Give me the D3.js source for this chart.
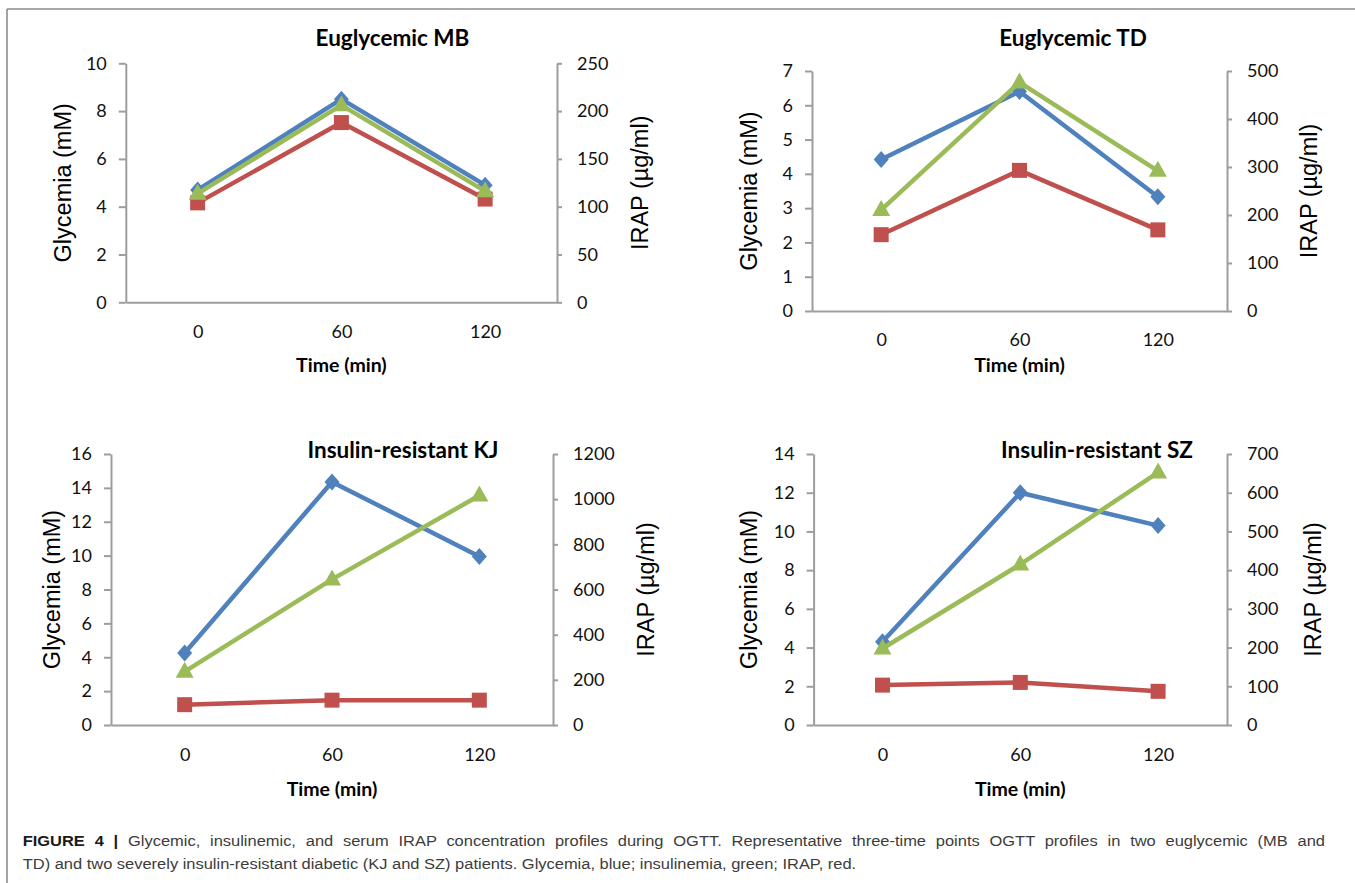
<!DOCTYPE html>
<html>
<head>
<meta charset="utf-8">
<script src="https://cdn.jsdelivr.net/npm/d3@7"></script>
<style>
  html, body { margin: 0; padding: 0; background: #fff; }
  svg { display: block; }
</style>
</head>
<body>
<svg id="chart" width="1355" height="883"></svg>
<script>
// ---------- DATA ----------
const timeLabels = ["0", "60", "120"];

const panelTitles = ["Euglycemic MB", "Euglycemic TD", "Insulin-resistant KJ", "Insulin-resistant SZ"];

const mbGlycemia    = [4.7, 8.5, 4.9];
const mbInsulinemia = [4.55, 8.25, 4.65];
const mbIrap        = [104, 188, 108];

const tdGlycemia    = [4.42, 6.4, 3.33];
const tdInsulinemia = [2.95, 6.67, 4.09];
const tdIrap        = [159, 293, 169];

const kjGlycemia    = [4.25, 14.35, 9.95];
const kjInsulinemia = [3.15, 8.6, 13.55];
const kjIrap        = [90, 110, 110];

const szGlycemia    = [4.3, 12.0, 10.3];
const szInsulinemia = [3.95, 8.3, 13.05];
const szIrap        = [103, 110, 87];

const mbGlyTicks  = [0, 2, 4, 6, 8, 10];
const mbIrapTicks = [0, 50, 100, 150, 200, 250];
const tdGlyTicks  = [0, 1, 2, 3, 4, 5, 6, 7];
const tdIrapTicks = [0, 100, 200, 300, 400, 500];
const kjGlyTicks  = [0, 2, 4, 6, 8, 10, 12, 14, 16];
const kjIrapTicks = [0, 200, 400, 600, 800, 1000, 1200];
const szGlyTicks  = [0, 2, 4, 6, 8, 10, 12, 14];
const szIrapTicks = [0, 100, 200, 300, 400, 500, 600, 700];

const leftAxisTitle  = "Glycemia (mM)";
const rightAxisTitle = "IRAP (µg/ml)";
const xAxisTitle     = "Time (min)";

const captionBold  = "FIGURE 4 |";
const captionLine1 = " Glycemic, insulinemic, and serum IRAP concentration profiles during OGTT. Representative three-time points OGTT profiles in two euglycemic (MB and";
const captionLine2 = "TD) and two severely insulin-resistant diabetic (KJ and SZ) patients. Glycemia, blue; insulinemia, green; IRAP, red.";

// ---------- LAYOUT / STYLE ----------
const colors = { glycemia: "#4F81BD", insulinemia: "#9BBB59", irap: "#C0504D" };
const axisColor = "#9d9d9d";
const tickFont = "Lato, 'Open Sans', sans-serif";
const titleFont = "Lato, 'Open Sans', sans-serif";
const labelFont = "'Liberation Sans', Arial, sans-serif";

const layouts = [
  { L: 125.8, R: 557, T: 63.3, B: 302.3, titleX: 392.5, titleY: 37, xlabY: 332, timeY: 364, glyX: 63, irapX: 640 },
  { L: 812, R: 1227, T: 71, B: 311, titleX: 1073, titleY: 37, xlabY: 340, timeY: 364, glyX: 749, irapX: 1309 },
  { L: 111, R: 553, T: 454, B: 725, titleX: 403, titleY: 449, xlabY: 755, timeY: 788, glyX: 52, irapX: 646 },
  { L: 813.6, R: 1227, T: 454, B: 725, titleX: 1097, titleY: 449, xlabY: 755, timeY: 788, glyX: 749, irapX: 1313 }
];

const panels = [
  { title: panelTitles[0], gly: mbGlycemia, ins: mbInsulinemia, irap: mbIrap, gTicks: mbGlyTicks, iTicks: mbIrapTicks },
  { title: panelTitles[1], gly: tdGlycemia, ins: tdInsulinemia, irap: tdIrap, gTicks: tdGlyTicks, iTicks: tdIrapTicks },
  { title: panelTitles[2], gly: kjGlycemia, ins: kjInsulinemia, irap: kjIrap, gTicks: kjGlyTicks, iTicks: kjIrapTicks },
  { title: panelTitles[3], gly: szGlycemia, ins: szInsulinemia, irap: szIrap, gTicks: szGlyTicks, iTicks: szIrapTicks }
];

const svg = d3.select("#chart");

// frame
svg.append("line").attr("x1", 7).attr("x2", 1355).attr("y1", 9).attr("y2", 9)
  .attr("stroke", "#8c8c8c").attr("stroke-width", 1.6);
svg.append("line").attr("x1", 7).attr("x2", 7).attr("y1", 9).attr("y2", 883)
  .attr("stroke", "#8c8c8c").attr("stroke-width", 1.6);

// marker shapes
function diamondPath(w, h) { return `M0,${-h}L${w},0L0,${h}L${-w},0Z`; }
function squarePath(s) { return `M${-s},${-s}H${s}V${s}H${-s}Z`; }
function trianglePath(w, h) { return `M0,${-h * 0.62}L${w},${h * 0.38}L${-w},${h * 0.38}Z`; }

panels.forEach((p, i) => {
  const lay = layouts[i];
  const g = svg.append("g");

  const x = d3.scalePoint().domain(timeLabels).range([lay.L, lay.R]).padding(0.5);
  const yL = d3.scaleLinear().domain([0, d3.max(p.gTicks)]).range([lay.B, lay.T]);
  const yR = d3.scaleLinear().domain([0, d3.max(p.iTicks)]).range([lay.B, lay.T]);

  const aL = g.append("g").attr("transform", `translate(${lay.L},0)`)
    .call(d3.axisLeft(yL).tickValues(p.gTicks).tickSize(7).tickSizeOuter(0).tickPadding(12).tickFormat(d3.format("d")));
  const aR = g.append("g").attr("transform", `translate(${lay.R},0)`)
    .call(d3.axisRight(yR).tickValues(p.iTicks).tickSize(5).tickSizeOuter(0).tickPadding(15).tickFormat(d3.format("d")));
  const aB = g.append("g").attr("transform", `translate(0,${lay.B})`)
    .call(d3.axisBottom(x).tickSize(0).tickSizeOuter(0).tickPadding(lay.xlabY - lay.B - 6.5));

  [aL, aR, aB].forEach(a => {
    a.selectAll("path.domain").attr("stroke", axisColor).attr("stroke-width", 2);
    a.selectAll(".tick line").attr("stroke", axisColor).attr("stroke-width", 2);
    a.selectAll("text").attr("font-family", tickFont).attr("font-size", 18).attr("fill", "#111");
  });

  const line = yScale => d3.line().x((d, j) => x(timeLabels[j])).y(d => yScale(d));
  const series = [
    { vals: p.gly, y: yL, color: colors.glycemia, shape: diamondPath(7.5, 8.5) },
    { vals: p.irap, y: yR, color: colors.irap, shape: squarePath(7.5) },
    { vals: p.ins, y: yL, color: colors.insulinemia, shape: trianglePath(9, 16) }
  ];
  series.forEach(s => {
    g.append("path").datum(s.vals).attr("d", line(s.y))
      .attr("fill", "none").attr("stroke", s.color).attr("stroke-width", 4.5)
      .attr("stroke-linejoin", "round");
    g.selectAll(null).data(s.vals).enter().append("path")
      .attr("transform", (d, j) => `translate(${x(timeLabels[j])},${s.y(d)})`)
      .attr("d", s.shape).attr("fill", s.color);
  });

  g.append("text").attr("x", lay.titleX).attr("y", lay.titleY)
    .attr("text-anchor", "middle").attr("dominant-baseline", "central")
    .attr("font-family", titleFont).attr("font-weight", "bold").attr("font-size", 22.5)
    .attr("fill", "#000").text(p.title);
  g.append("text").attr("x", x("60")).attr("y", lay.timeY)
    .attr("text-anchor", "middle").attr("dominant-baseline", "central")
    .attr("font-family", titleFont).attr("font-weight", "bold").attr("font-size", 19.5)
    .attr("fill", "#000").text(xAxisTitle);
  const midY = (lay.T + lay.B) / 2;
  g.append("text").attr("transform", `translate(${lay.glyX},${midY}) rotate(-90)`)
    .attr("text-anchor", "middle").attr("dominant-baseline", "central")
    .attr("font-family", labelFont).attr("font-size", 23.5).attr("fill", "#000").text(leftAxisTitle);
  g.append("text").attr("transform", `translate(${lay.irapX},${midY}) rotate(-90)`)
    .attr("text-anchor", "middle").attr("dominant-baseline", "central")
    .attr("font-family", labelFont).attr("font-size", 23.5).attr("fill", "#000").text(rightAxisTitle);
});

// caption: condensed face emulated with a horizontal scale; first line justified
const capX = 22.7, capFs = 15;
const t1 = svg.append("text").attr("x", 0).attr("y", 0)
  .attr("font-family", labelFont).attr("font-size", capFs).attr("fill", "#3c3c3c");
t1.append("tspan").attr("font-weight", "bold").attr("fill", "#1a1a1a").text(captionBold);
t1.append("tspan").text(captionLine1);
const t2 = svg.append("text").attr("x", 0).attr("y", 0)
  .attr("font-family", labelFont).attr("font-size", capFs).attr("fill", "#3c3c3c").text(captionLine2);
const w2 = t2.node().getComputedTextLength();
const sx = (857 - capX) / w2;
t1.attr("transform", `translate(${capX},846) scale(${sx},1)`);
t2.attr("transform", `translate(${capX},869) scale(${sx},1)`);
const w1 = t1.node().getComputedTextLength();
const nSpaces = (captionBold + captionLine1).split(" ").length - 1;
t1.attr("word-spacing", Math.max(0, ((1325 - capX) / sx - w1) / nSpaces));
</script>
</body>
</html>
